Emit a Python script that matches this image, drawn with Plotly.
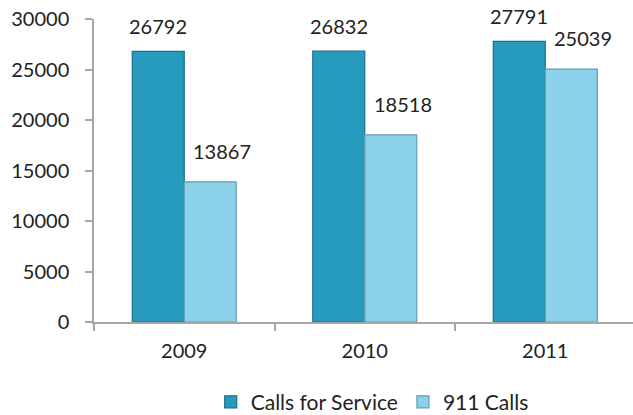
import plotly.graph_objects as go

years = ["2009", "2010", "2011"]
calls_for_service = [26792, 26832, 27791]
calls_911 = [13867, 18518, 25039]
y_ticks = [0, 5000, 10000, 15000, 20000, 25000, 30000]

FONT = "Lato, 'Open Sans', sans-serif"
DARK = "#279bbe"
LIGHT = "#8bd1e9"

fig = go.Figure()
fig.add_trace(go.Bar(
    x=years, y=calls_for_service, name="Calls for Service",
    marker=dict(color=DARK, line=dict(color="#1a6f8a", width=1.2)),
))
fig.add_trace(go.Bar(
    x=years, y=calls_911, name="911 Calls",
    marker=dict(color=LIGHT, line=dict(color="#5c9fb8", width=1.2)),
))

# data labels, Excel-style: slightly off to the right for the second series
# (category axis -> annotation x given as category index)
for i, v in enumerate(calls_for_service):
    fig.add_annotation(x=i, y=v, text=str(v), showarrow=False,
                       xshift=-26, yshift=25, yanchor="middle",
                       font=dict(family=FONT, size=20, color="#222"))
for i, v in enumerate(calls_911):
    fig.add_annotation(x=i, y=v, text=str(v), showarrow=False,
                       xshift=38, yshift=31, yanchor="middle",
                       font=dict(family=FONT, size=20, color="#222"))

fig.update_layout(
    width=633, height=415,
    margin=dict(l=94, r=0, t=19, b=93),
    paper_bgcolor="white", plot_bgcolor="white",
    barmode="group", bargap=0.424, bargroupgap=0,
    font=dict(family=FONT, size=20, color="#222"),
    showlegend=True,
    legend=dict(orientation="h", xref="container", yref="container",
                x=0.588, xanchor="center", y=0.031, yanchor="middle",
                font=dict(size=21), itemwidth=30, tracegroupgap=0),
)
fig.update_xaxes(
    type="category", range=[-0.5, 2.486], automargin=False,
    showline=True, linecolor="#a6a6a6", linewidth=1.5,
    ticks="outside", ticklen=7, tickcolor="#a6a6a6", tickwidth=1.5,
    tickson="boundaries", ticklabelstandoff=10,
    showgrid=False, zeroline=False,
)
fig.update_yaxes(
    range=[0, 30000], tickvals=y_ticks, tickformat="d", automargin=False,
    showline=True, linecolor="#a6a6a6", linewidth=1.5,
    ticks="outside", ticklen=7, tickcolor="#a6a6a6", tickwidth=1.5,
    ticklabelstandoff=12,
    showgrid=False, zeroline=False,
)

# page body has a default 8px margin; drop it so the figure fills the window
fig.write_html("out.html", config={"displayModeBar": False},
               post_script="document.body.style.margin='0';")
